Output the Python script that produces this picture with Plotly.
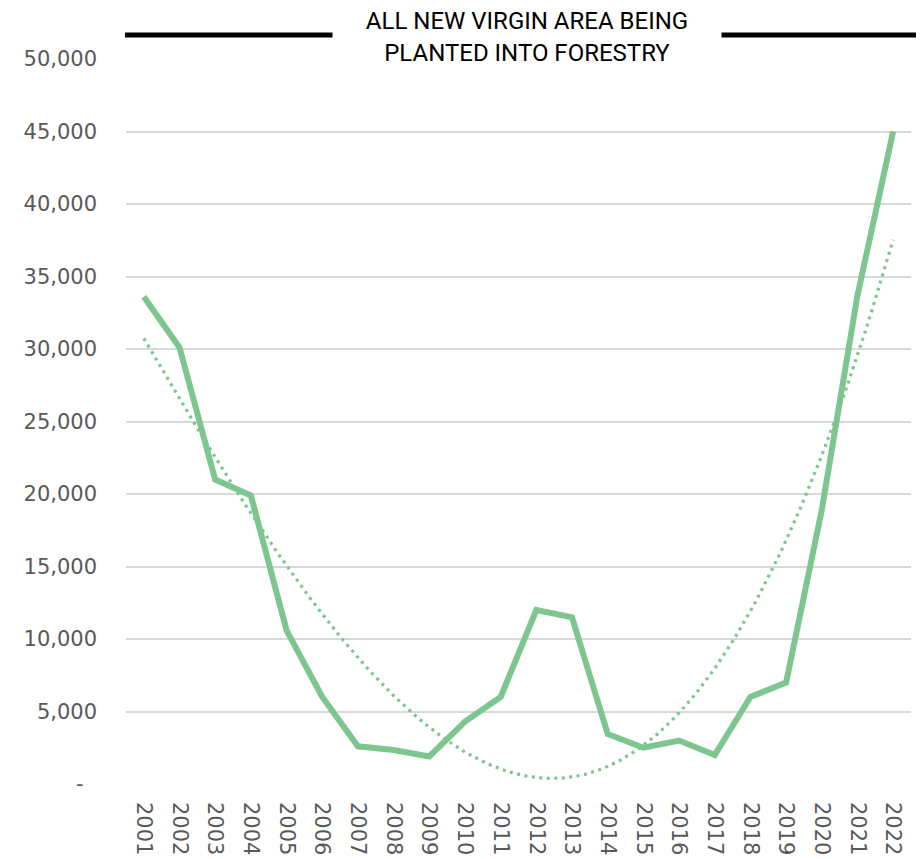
import numpy as np
import plotly.graph_objects as go

years = [str(y) for y in range(2001, 2023)]
area = [33600, 30100, 21000, 19900, 10600, 6000, 2600, 2350, 1900, 4300, 6000,
        12000, 11500, 3450, 2500, 3000, 2000, 6000, 7000, 18900, 33700, 45000]
y_ticks = [0, 5000, 10000, 15000, 20000, 25000, 30000, 35000, 40000, 45000, 50000]
y_tick_text = ["-\u00a0\u00a0", "5,000", "10,000", "15,000", "20,000", "25,000",
               "30,000", "35,000", "40,000", "45,000", "50,000"]
title_lines = ["ALL NEW VIRGIN AREA BEING", "PLANTED INTO FORESTRY"]

GREEN = "#7DC68F"
GRAY = "#595959"
FONT = "DejaVu Sans"

# polynomial trendline (order 3) computed from the data
idx = np.arange(len(years))
coef = np.polyfit(idx, area, 3)
xs = np.linspace(0, len(years) - 1, 200)
trend = np.polyval(coef, xs)

fig = go.Figure()
fig.add_trace(go.Scatter(x=xs, y=trend, mode="lines",
                         line=dict(color=GREEN, width=3.2, dash="3px,4.5px"),
                         hoverinfo="skip", showlegend=False))
fig.add_trace(go.Scatter(x=idx, y=area, mode="lines",
                         line=dict(color=GREEN, width=6),
                         showlegend=False))

PW, PH = 785, 725  # plot area size
fig.update_layout(
    width=916, height=851,
    margin=dict(l=118, r=13, t=51, b=75),
    plot_bgcolor="white", paper_bgcolor="white",
    font=dict(family=FONT, color=GRAY, size=20),
    xaxis=dict(range=[-0.5, len(years) - 0.5], tickmode="array",
               tickvals=list(idx), ticktext=years, tickangle=90,
               showgrid=False, zeroline=False, showline=False,
               ticks="", ticklabelstandoff=17, automargin=False,
               tickfont=dict(family=FONT, size=21, color=GRAY)),
    yaxis=dict(range=[0, 50000], tickmode="array", tickvals=y_ticks,
               ticktext=y_tick_text, showgrid=True, gridcolor="#D9D9D9",
               gridwidth=1.5, zeroline=False, showline=False, ticks="",
               ticklabelstandoff=28, automargin=False,
               tickfont=dict(family=FONT, size=21, color=GRAY)),
)

# black title bar line
ybar = 1 + 24 / PH
fig.add_shape(type="line", xref="paper", yref="paper",
              x0=-1 / PW, x1=1 + 7 / PW, y0=ybar, y1=ybar,
              line=dict(color="black", width=5))

fig.add_annotation(
    xref="paper", yref="paper", x=(526.5 - 126) / PW, y=1 + 22 / PH,
    xanchor="center", yanchor="middle",
    text="<br>".join(title_lines), showarrow=False,
    font=dict(family="Roboto", size=24, color="black"),
    bgcolor="white", width=386, height=72, align="center",
)

fig.write_html("out.html")
